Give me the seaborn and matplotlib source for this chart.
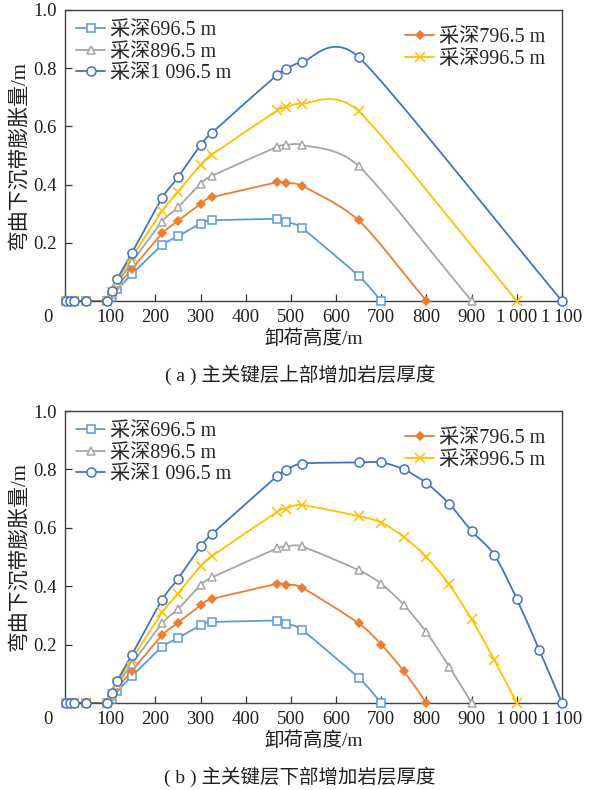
import numpy as np
import matplotlib
matplotlib.use('Agg')
import matplotlib.pyplot as plt
import matplotlib.transforms as mtrans
from matplotlib.path import Path
from matplotlib.patches import PathPatch
from matplotlib.lines import Line2D
import pandas as pd
import seaborn as sns

# data (unloading height in m, expansion in m)
labels = ['采深696.5 m', '采深796.5 m', '采深896.5 m', '采深996.5 m', '采深1 096.5 m']

# rising part, shared by both panels
x_rise = [3, 12, 20, 46, 93, 105, 116, 148, 215, 250, 300, 325, 470, 490, 525]
rise_696 = [0, 0, 0, 0, 0, 0.015, 0.040, 0.092, 0.192, 0.222, 0.266, 0.277, 0.282, 0.271, 0.250]
rise_796 = [0, 0, 0, 0, 0, 0.020, 0.052, 0.110, 0.232, 0.275, 0.334, 0.356, 0.408, 0.405, 0.395]
rise_896 = [0, 0, 0, 0, 0, 0.025, 0.062, 0.133, 0.273, 0.322, 0.403, 0.430, 0.530, 0.536, 0.536]
rise_996 = [0, 0, 0, 0, 0, 0.030, 0.070, 0.150, 0.310, 0.375, 0.468, 0.503, 0.655, 0.666, 0.678]
rise_1096 = [0, 0, 0, 0, 0, 0.035, 0.077, 0.165, 0.354, 0.425, 0.536, 0.578, 0.778, 0.798, 0.820]

# (a) tails
x_tail_a_696 = [650, 700]
x_tail_a_796 = [650, 800]
x_tail_a_896 = [650, 900]
x_tail_a_996 = [650, 1000]
x_tail_a_1096 = [650, 1100]
tail_a_696 = [0.086, 0]
tail_a_796 = [0.277, 0]
tail_a_896 = [0.464, 0]
tail_a_996 = [0.652, 0]
tail_a_1096 = [0.838, 0]

# (b) tails
x_tail_b = [650, 700, 750, 800, 850, 900, 950, 1000, 1050, 1100]
tail_b_696 = [0.086, 0]
tail_b_796 = [0.273, 0.200, 0.109, 0]
tail_b_896 = [0.455, 0.408, 0.336, 0.242, 0.125, 0]
tail_b_996 = [0.640, 0.618, 0.569, 0.500, 0.406, 0.287, 0.148, 0]
tail_b_1096 = [0.824, 0.824, 0.800, 0.753, 0.683, 0.589, 0.508, 0.356, 0.180, 0]

x_ticks = [0, 100, 200, 300, 400, 500, 600, 700, 800, 900, 1000, 1100]
x_ticklabels = ['0', '100', '200', '300', '400', '500', '600', '700', '800', '900',
                '1\u2009000', '1\u2009100']
y_ticks = [0.2, 0.4, 0.6, 0.8, 1.0]

colors = ['#5B9BD5', '#ED7D31', '#A5A5A5', '#FFC000', '#4472C4']
markers = ['s', 'D', '^', 'x', 'o']
msizes = [6, 4.5, 6, 6.5, 6.5]
mfaces = ['white', '#ED7D31', 'white', 'white', 'white']

sns.set_theme(style='ticks')
plt.rcParams['font.family'] = ['Liberation Serif', 'Noto Sans CJK SC']
plt.rcParams['axes.unicode_minus'] = False

W, H = 600, 790
fig = plt.figure(figsize=(W / 100, H / 100), dpi=100)
ax_a = fig.add_axes([65 / W, 1 - 301 / H, 497 / W, 291 / H])
ax_b = fig.add_axes([65 / W, 1 - 703 / H, 497 / W, 292 / H])


def smooth_path(xs, ys, sx, sy, k=0.28):
    # smooth curve through the points, bezier segments in pixel-like units
    p = np.column_stack([np.asarray(xs, float) * sx, np.asarray(ys, float) * sy])
    n = len(p)
    seg = np.hypot(*np.diff(p, axis=0).T)
    tan = np.zeros_like(p)
    mag = np.zeros(n)
    for i in range(n):
        d = p[min(i + 1, n - 1)] - p[max(i - 1, 0)]
        L = np.hypot(*d)
        if L > 0:
            tan[i] = d / L
        if i == 0:
            mag[i] = k * seg[0]
        elif i == n - 1:
            mag[i] = k * seg[-1]
        else:
            mag[i] = k * np.sqrt(seg[i - 1] * seg[i])
    verts = [p[0]]
    codes = [Path.MOVETO]
    for i in range(n - 1):
        m0 = min(mag[i], 0.8 * seg[i])
        m1 = min(mag[i + 1], 0.8 * seg[i])
        verts += [p[i] + tan[i] * m0, p[i + 1] - tan[i + 1] * m1, p[i + 1]]
        codes += [Path.CURVE4] * 3
    verts = np.array(verts) / [sx, sy]
    return Path(verts, codes)


def draw_panel(ax, series, caption):
    sx = 497 / 1100
    sy = 291
    for (xs, ys), c, m, ms, mf in zip(series, colors, markers, msizes, mfaces):
        ax.add_patch(PathPatch(smooth_path(xs, ys, sx, sy), facecolor='none',
                               edgecolor=c, lw=1.3, zorder=2))
        df = pd.DataFrame({'x': xs, 'y': ys})
        sns.lineplot(data=df, x='x', y='y', ax=ax, sort=False, errorbar=None,
                     linestyle='none', marker=m, markersize=ms, color=c,
                     markerfacecolor=mf, markeredgecolor=c, markeredgewidth=1.1,
                     clip_on=False, zorder=3, legend=False)

    ax.set_xlim(0, 1100)
    ax.set_ylim(0, 1.0)
    ax.set_xticks(x_ticks)
    ax.set_xticklabels(x_ticklabels)
    ax.set_yticks(y_ticks)
    ax.set_yticklabels(['0.2', '0.4', '0.6', '0.8', '1.0'])
    ax.tick_params(direction='in', length=5, width=0.9, labelsize=13.5,
                   colors='#333333', labelcolor='#231f20', pad=6)
    for s in ax.spines.values():
        s.set_visible(True)
        s.set_color('#404040')
        s.set_linewidth(1.0)
    # origin label sits left of the corner
    lab0 = ax.get_xticklabels()[0]
    lab0.set_transform(lab0.get_transform() +
                       mtrans.ScaledTranslation(-0.17, 0, fig.dpi_scale_trans))

    ax.set_xlabel('卸荷高度/m', fontsize=14, labelpad=2, color='#231f20')
    ax.set_ylabel('弯曲下沉带膨胀量/m', fontsize=15, labelpad=3, color='#231f20')

    handles = [Line2D([], [], color=c, lw=1.3, marker=m, markersize=ms,
                      markerfacecolor=mf, markeredgecolor=c, markeredgewidth=1.1)
               for c, m, ms, mf in zip(colors, markers, msizes, mfaces)]
    leg_kw = dict(frameon=False, fontsize=14.5, handlelength=1.45,
                  handletextpad=0.25, labelspacing=0.12, borderaxespad=0.15)
    leg1 = ax.legend([handles[0], handles[2], handles[4]],
                     [labels[0], labels[2], labels[4]],
                     loc='upper left', bbox_to_anchor=(0.0, 1.0), **leg_kw)
    ax.add_artist(leg1)
    ax.legend([handles[1], handles[3]], [labels[1], labels[3]],
              loc='upper left', bbox_to_anchor=(0.662, 0.975), **leg_kw)

    bb = ax.get_position()
    fig.text(0.5, bb.y0 - 74 / H, caption, ha='center', va='center',
             fontsize=14, color='#231f20')


series_a = [(x_rise + x_tail_a_696, rise_696 + tail_a_696),
            (x_rise + x_tail_a_796, rise_796 + tail_a_796),
            (x_rise + x_tail_a_896, rise_896 + tail_a_896),
            (x_rise + x_tail_a_996, rise_996 + tail_a_996),
            (x_rise + x_tail_a_1096, rise_1096 + tail_a_1096)]
series_b = [(x_rise + x_tail_b[:len(tail_b_696)], rise_696 + tail_b_696),
            (x_rise + x_tail_b[:len(tail_b_796)], rise_796 + tail_b_796),
            (x_rise + x_tail_b[:len(tail_b_896)], rise_896 + tail_b_896),
            (x_rise + x_tail_b[:len(tail_b_996)], rise_996 + tail_b_996),
            (x_rise + x_tail_b[:len(tail_b_1096)], rise_1096 + tail_b_1096)]

draw_panel(ax_a, series_a, '( a ) 主关键层上部增加岩层厚度')
draw_panel(ax_b, series_b, '( b ) 主关键层下部增加岩层厚度')

fig.savefig('out.png', dpi=100)
